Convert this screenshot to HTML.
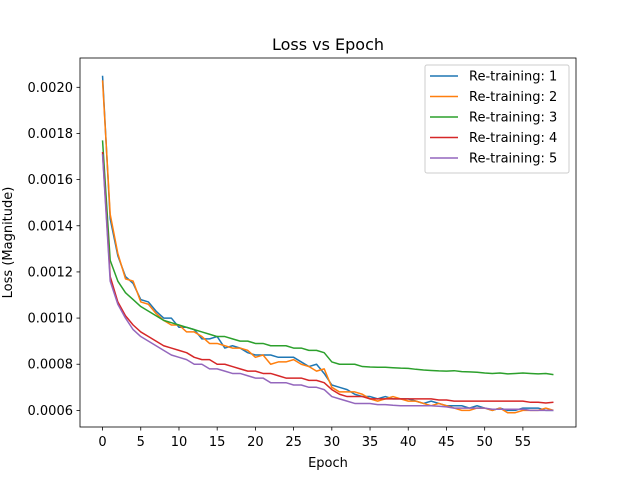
<!DOCTYPE html>
<html><head><meta charset="utf-8">
<style>body{margin:0;background:#fff}svg{display:block;font-family:"DejaVu Sans","Liberation Sans",sans-serif}</style>
</head><body>
<svg id="chart" width="640" height="480" viewBox="0 0 640 480"></svg>
<script>
const epochs = Array.from({length:60},(_,i)=>i);
const seriesNames = ["Re-training: 1","Re-training: 2","Re-training: 3","Re-training: 4","Re-training: 5"];
const colors = ["#1f77b4","#ff7f0e","#2ca02c","#d62728","#9467bd"];
const s1 = [0.00205,0.00143,0.00127,0.00118,0.00115,0.00108,0.00107,0.00103,0.00100,0.00100,0.00096,0.00096,0.00095,0.00091,0.00091,0.00092,0.00087,0.00088,0.00087,0.00085,0.00084,0.00084,0.00084,0.00083,0.00083,0.00083,0.00081,0.00079,0.00080,0.00076,0.00071,0.00070,0.00069,0.00067,0.00066,0.00066,0.00065,0.00066,0.00065,0.00065,0.00065,0.00064,0.00063,0.00064,0.00063,0.00062,0.00062,0.00062,0.00061,0.00062,0.00061,0.00060,0.00061,0.00060,0.00060,0.00061,0.00061,0.00061,0.00060,0.00060];
const s2 = [0.00203,0.00145,0.00128,0.00117,0.00116,0.00107,0.00106,0.00102,0.00099,0.00097,0.00097,0.00094,0.00094,0.00092,0.00089,0.00089,0.00088,0.00087,0.00087,0.00086,0.00083,0.00084,0.00080,0.00081,0.00081,0.00082,0.00080,0.00079,0.00077,0.00078,0.00070,0.00068,0.00068,0.00068,0.00067,0.00065,0.00064,0.00065,0.00066,0.00065,0.00064,0.00064,0.00063,0.00062,0.00063,0.00062,0.00061,0.00060,0.00060,0.00061,0.00061,0.00060,0.00061,0.00059,0.00059,0.00060,0.00060,0.00060,0.00061,0.00060];
const s3 = [0.00177,0.00125,0.00116,0.00111,0.00108,0.00105,0.00103,0.00101,0.00099,0.00098,0.00097,0.00096,0.00095,0.00094,0.00093,0.00092,0.00092,0.00091,0.00090,0.00090,0.00089,0.00089,0.00088,0.00088,0.00088,0.00087,0.00087,0.00086,0.00086,0.00085,0.00081,0.00080,0.00080,0.00080,0.00079,0.000788,0.000787,0.000787,0.000785,0.000783,0.000782,0.000778,0.000775,0.000773,0.000771,0.00077,0.000772,0.000768,0.000767,0.000765,0.000762,0.00076,0.000762,0.000758,0.00076,0.000762,0.00076,0.000758,0.00076,0.000755];
const s4 = [0.00172,0.00118,0.00107,0.00101,0.00097,0.00094,0.00092,0.00090,0.00088,0.00087,0.00086,0.00085,0.00083,0.00082,0.00082,0.00080,0.00080,0.00079,0.00078,0.00077,0.00077,0.00076,0.00076,0.00075,0.00074,0.00074,0.00074,0.00073,0.00073,0.00072,0.00069,0.00067,0.00066,0.00066,0.00066,0.00065,0.00065,0.00065,0.00065,0.00065,0.00065,0.00065,0.00065,0.00065,0.000645,0.000645,0.00064,0.00064,0.00064,0.00064,0.00064,0.00064,0.00064,0.00064,0.00064,0.00064,0.000635,0.000635,0.000632,0.000635];
const s5 = [0.00171,0.00116,0.00106,0.00100,0.00095,0.00092,0.00090,0.00088,0.00086,0.00084,0.00083,0.00082,0.00080,0.00080,0.00078,0.00078,0.00077,0.00076,0.00076,0.00075,0.00074,0.00074,0.00072,0.00072,0.00072,0.00071,0.00071,0.00070,0.00070,0.00069,0.00066,0.00065,0.00064,0.00063,0.00063,0.00063,0.000625,0.000625,0.000622,0.00062,0.00062,0.00062,0.00062,0.00062,0.000618,0.000615,0.00061,0.00061,0.00061,0.00061,0.00061,0.000605,0.000605,0.000605,0.000605,0.000605,0.0006,0.0006,0.0006,0.0006];
const seriesData = [s1,s2,s3,s4,s5];
const xTicks = [0,5,10,15,20,25,30,35,40,45,50,55];
const yTicks = [0.0006,0.0008,0.0010,0.0012,0.0014,0.0016,0.0018,0.0020];

const L=80,R=576,T=58,B=427;
const xMin=-2.95,xMax=61.95,yMin=0.000528,yMax=0.002127;
const X=v=>L+(v-xMin)/(xMax-xMin)*(R-L);
const Y=v=>B-(v-yMin)/(yMax-yMin)*(B-T);
const svg=document.getElementById('chart');
const NS="http://www.w3.org/2000/svg";
function mk(tag,attrs,parent){const e=document.createElementNS(NS,tag);for(const k in attrs)e.setAttribute(k,attrs[k]);(parent||svg).appendChild(e);return e;}

const frame=mk('rect',{x:L,y:T,width:R-L,height:B-T,fill:'none',stroke:'#000','stroke-width':0.8});



xTicks.forEach(t=>{
  const l=mk('line',{x1:X(t),x2:X(t),y1:B,y2:B+3.5,stroke:'#000','stroke-width':0.8});
  
  
  const tx=mk('text',{x:X(t),y:B+19,'font-size':13,'text-anchor':'middle'});tx.textContent=t;
  
  
});
yTicks.forEach(t=>{
  const l=mk('line',{x1:L-3.5,x2:L,y1:Y(t),y2:Y(t),stroke:'#000','stroke-width':0.8});
  
  
  const tx=mk('text',{x:L-7,y:Y(t)+4.5,'font-size':13,'text-anchor':'end'});tx.textContent=t.toFixed(4);
  
  
});

seriesData.forEach((d,i)=>{
  const p=mk('polyline',{points:d.map((v,j)=>X(epochs[j])+','+Y(v)).join(' '),fill:'none',stroke:colors[i],'stroke-width':1.5,'stroke-linejoin':'round'});
  
  
});

const title=mk('text',{x:(L+R)/2,y:T-8,'font-size':16,'text-anchor':'middle'});title.textContent='Loss vs Epoch';


const xl=mk('text',{x:(L+R)/2,y:467,'font-size':13,'text-anchor':'middle'});xl.textContent='Epoch';


const yl=mk('text',{x:0,y:0,'font-size':13,'text-anchor':'middle',transform:'translate(12,'+((T+B)/2)+') rotate(-90)'});yl.textContent='Loss (Magnitude)';



const lg=mk('rect',{x:425,y:65,width:144,height:108,fill:'#fff',stroke:'#ccc','stroke-width':1,rx:2});


seriesNames.forEach((n,i)=>{
  const yy=76+i*20.5;
  const l=mk('line',{x1:430,x2:458,y1:yy,y2:yy,stroke:colors[i],'stroke-width':1.5});
  
  
  const t=mk('text',{x:469,y:yy+4.5,'font-size':13});t.textContent=n;
  
  
});
</script>
</body></html>
